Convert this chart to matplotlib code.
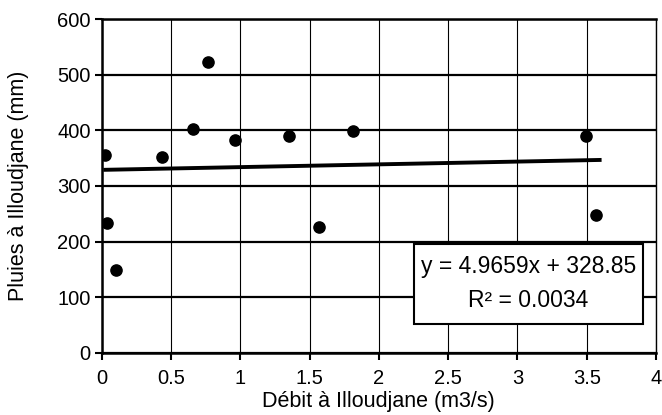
import matplotlib
matplotlib.use("Agg")
import numpy as np
from matplotlib import pyplot as plt
from matplotlib.patches import Rectangle

plt.rcParams['font.family'] = ['Liberation Sans', 'DejaVu Sans']

# debit (m3/s) vs pluies (mm) at Illoudjane
debit = [0.026, 0.04, 0.10, 0.437, 0.657, 0.767, 0.964, 1.349, 1.568, 1.811, 3.492, 3.569]
pluies = [356, 234, 149, 352, 402, 522, 383, 390, 226, 399, 390, 248]

slope = 4.9659
intercept = 328.85
r2 = 0.0034

fig = plt.figure(figsize=(6.62, 4.15), dpi=100)
ax = fig.add_axes([0.1536, 0.150, 0.8374, 0.804])

ax.scatter(debit, pluies, s=65, color='black', zorder=4)

xs = np.array([min(debit), 3.593])
ax.plot(xs, slope * xs + intercept, color='black', linewidth=2.8, zorder=3)

ax.set_xlim(0, 4)
ax.set_ylim(0, 600)
ax.set_xticks(np.arange(0, 4.01, 0.5))
ax.set_xticklabels(['0', '0.5', '1', '1.5', '2', '2.5', '3', '3.5', '4'])
ax.set_yticks(range(0, 601, 100))

ax.yaxis.grid(True, color='black', linewidth=1.6)
ax.xaxis.grid(True, color='black', linewidth=0.8)
ax.set_axisbelow(True)

for side in ['left', 'bottom', 'top']:
    ax.spines[side].set_linewidth(1.8)
ax.spines['right'].set_linewidth(1.0)

ax.tick_params(axis='both', labelsize=14.5, length=5, width=1.5, direction='out')
ax.tick_params(axis='x', pad=7)
ax.tick_params(axis='y', pad=3)
ax.set_xlabel("Débit à Illoudjane (m3/s)", fontsize=15.5, labelpad=2)
ax.set_ylabel("Pluies à Illoudjane (mm)", fontsize=15.5, labelpad=20)

rect = Rectangle((0.5634, 0.085), 0.4136, 0.241, transform=ax.transAxes,
                 facecolor='white', edgecolor='black', linewidth=1.5, zorder=5)
ax.add_patch(rect)
ax.text(0.770, 0.258, "y = %.4fx + %.2f" % (slope, intercept), transform=ax.transAxes,
        ha='center', va='center', fontsize=16.5, zorder=6)
ax.text(0.770, 0.158, "R² = %.4f" % r2, transform=ax.transAxes,
        ha='center', va='center', fontsize=16.5, zorder=6)

fig.savefig("out.png", dpi=100)
